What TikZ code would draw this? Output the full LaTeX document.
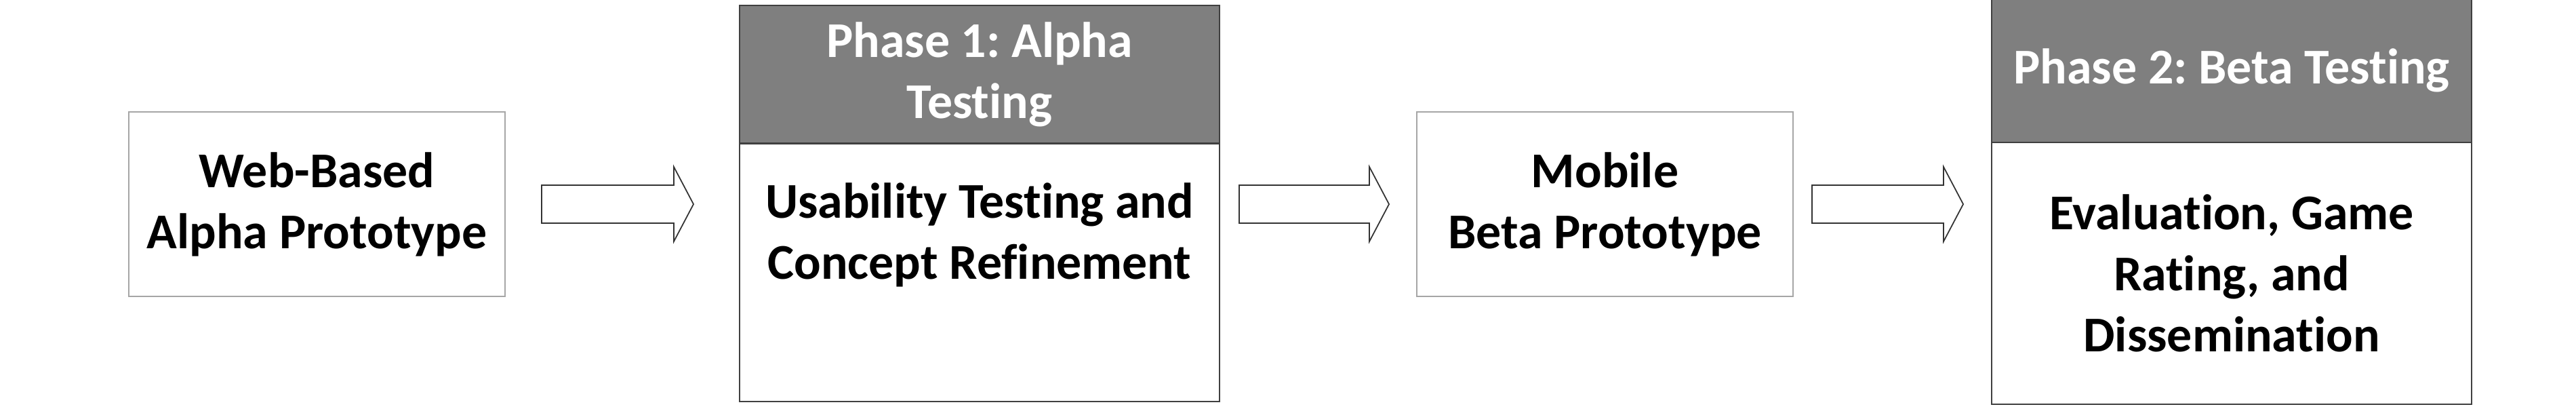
\documentclass[tikz,border=0pt]{standalone}
\usepackage{fontspec}
\setmainfont{Carlito}[Ligatures=NoCommon]
\usetikzlibrary{positioning,calc}

\definecolor{protoline}{HTML}{A6A6A6}
\definecolor{phaseline}{HTML}{404040}
\definecolor{headgray}{HTML}{7F7F7F}
\definecolor{arrowline}{HTML}{333333}

% outlined block arrow from tail point to tip point
\newcommand{\blockarrow}[2]{%
  \draw[blockarrow] let \p1 = (#1), \p2 = (#2) in
    (\x1,\y1+0.28cm) -- (\x2-0.29cm,\y1+0.28cm) -- (\x2-0.29cm,\y1+0.55cm) --
    (\x2,\y1) --
    (\x2-0.29cm,\y1-0.55cm) -- (\x2-0.29cm,\y1-0.28cm) -- (\x1,\y1-0.28cm) -- cycle;}

\frenchspacing
\begin{document}
\begin{tikzpicture}[
    x = 1cm, y = 1cm,
    every node/.style = {font = \fontsize{21}{25.6}\selectfont\bfseries,
                         align = center, inner sep = 0pt, outer sep = 0pt},
    prototype/.style = {draw = protoline, line width = 0.5pt,
                        minimum width = 5.55cm, minimum height = 2.72cm},
    phasehead/.style = {draw = phaseline, fill = headgray, text = white,
                        line width = 0.6pt, minimum width = 7.08cm},
    phasebody/.style = {draw = phaseline, line width = 0.6pt, minimum width = 7.08cm},
    blockarrow/.style = {draw = arrowline, fill = white, line width = 0.5pt}]

\useasboundingbox (0,0) rectangle (38,-6.02);

\node[prototype] (webAlpha) at (4.675,-3.01) {Web-Based\\Alpha Prototype};

\node[phasehead, minimum height = 2.035cm, anchor = north west] (phaseOneHead)
	at (10.91,-0.08) {Phase 1: Alpha\\Testing};
\node[phasebody, minimum height = 3.805cm, below = 0pt of phaseOneHead] (phaseOneBody) {};
\node (usabilityText) at ($(phaseOneBody.center)+(0,0.55)$)
	{Usability Testing and\\Concept Refinement};

\node[prototype] (mobileBeta) at (23.675,-3.01) {Mobile\\Beta Prototype};

\node[phasehead, minimum height = 2.12cm, anchor = north west] (phaseTwoHead)
	at (29.38,0.02) {Phase 2: Beta Testing};
\node[phasebody, minimum height = 3.86cm, below = 0pt of phaseTwoHead] (phaseTwoBody)
	{Evaluation, Game\\Rating, and\\Dissemination};

\blockarrow{$(webAlpha.east)+(0.54,0)$}{$(phaseOneBody.west |- webAlpha.east)+(-0.68,0)$}
\blockarrow{$(phaseOneBody.east |- webAlpha.east)+(0.29,0)$}{$(mobileBeta.west)+(-0.41,0)$}
\blockarrow{$(mobileBeta.east)+(0.28,0)$}{$(phaseTwoBody.west |- mobileBeta.west)+(-0.42,0)$}
\end{tikzpicture}
\end{document}
